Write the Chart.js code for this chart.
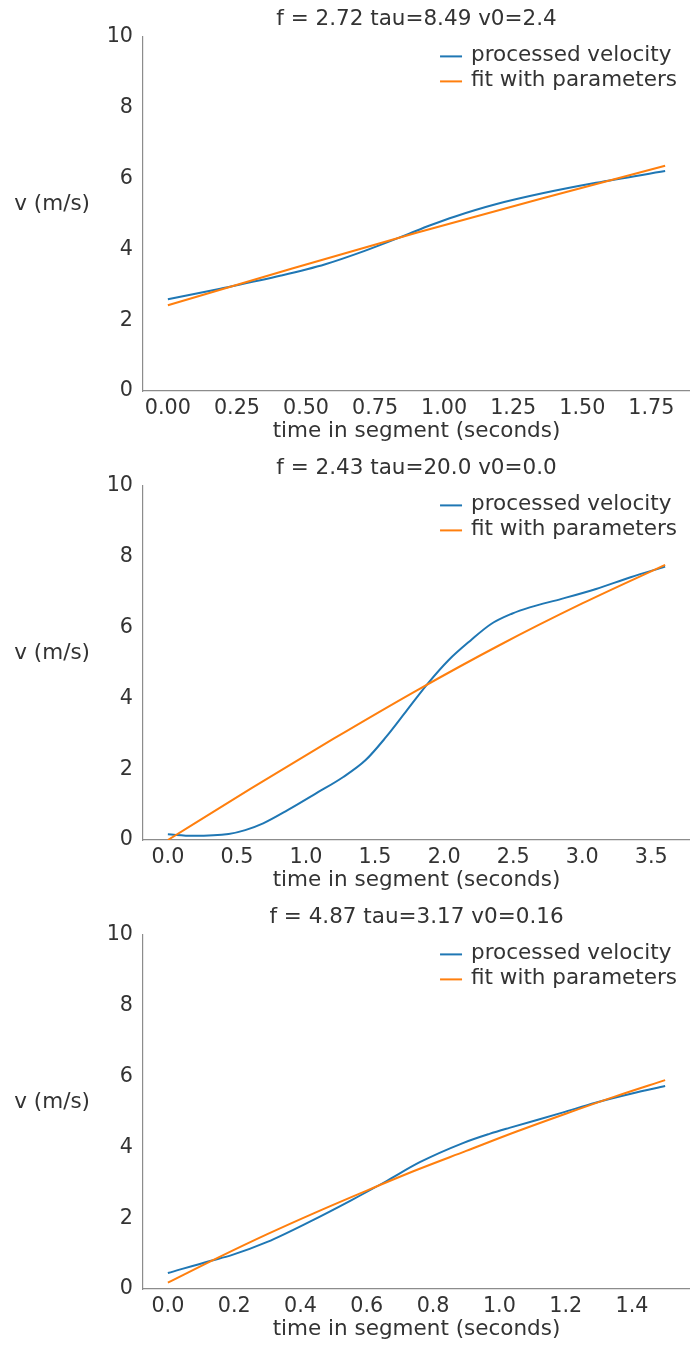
<!DOCTYPE html>
<html>
<head>
<meta charset="utf-8">
<script src="https://cdn.jsdelivr.net/npm/chart.js@4/dist/chart.umd.min.js"></script>
<style>
  html, body { margin: 0; padding: 0; background: #ffffff; overflow: hidden; }
  .panel { position: absolute; left: 0; width: 690px; height: 449px; }
</style>
</head>
<body>
<div class="panel" style="top:0px"><canvas id="seg1" width="690" height="449"></canvas></div>
<div class="panel" style="top:449px"><canvas id="seg2" width="690" height="449"></canvas></div>
<div class="panel" style="top:898px"><canvas id="seg3" width="690" height="449"></canvas></div>
<script>
// Segment 1
const seg1Title = 'f = 2.72 tau=8.49 v0=2.4';
const seg1Time = [0, 0.19, 0.41, 0.57, 0.71, 0.86, 0.95, 1.04, 1.19, 1.36, 1.55, 1.8];
const seg1Velocity = [2.59, 2.89, 3.26, 3.58, 3.95, 4.4, 4.68, 4.93, 5.28, 5.59, 5.88, 6.21];
const seg1FitTime = [0, 0.45, 0.9, 1.35, 1.8];
const seg1Fit = [2.42, 3.46, 4.47, 5.43, 6.36];
const seg1Ticks = [0, 0.25, 0.5, 0.75, 1.0, 1.25, 1.5, 1.75];
const seg1Range = [-0.09, 1.89];

// Segment 2
const seg2Title = 'f = 2.43 tau=20.0 v0=0.0';
const seg2Time = [0, 0.18, 0.44, 0.56, 0.69, 0.87, 1.07, 1.27, 1.43, 1.58, 1.73, 1.88, 2.03, 2.19, 2.34, 2.49, 2.62, 2.85, 3.1, 3.35, 3.6];
const seg2Velocity = [0.16, 0.12, 0.17, 0.28, 0.47, 0.85, 1.31, 1.78, 2.25, 2.91, 3.66, 4.41, 5.07, 5.63, 6.1, 6.39, 6.57, 6.81, 7.09, 7.42, 7.72];
const seg2FitTime = [0, 0.6, 1.2, 1.8, 2.4, 3.0, 3.6];
const seg2Fit = [0.0, 1.45, 2.86, 4.22, 5.5, 6.68, 7.77];
const seg2Ticks = [0, 0.5, 1.0, 1.5, 2.0, 2.5, 3.0, 3.5];
const seg2Range = [-0.18, 3.78];

// Segment 3
const seg3Title = 'f = 4.87 tau=3.17 v0=0.16';
const seg3Time = [0, 0.13, 0.19, 0.3, 0.43, 0.55, 0.66, 0.76, 0.89, 0.97, 1.03, 1.19, 1.29, 1.4, 1.5];
const seg3Velocity = [0.45, 0.8, 0.95, 1.33, 1.91, 2.49, 3.05, 3.58, 4.12, 4.38, 4.55, 4.98, 5.26, 5.52, 5.73];
const seg3FitTime = [0, 0.15, 0.3, 0.45, 0.6, 0.75, 0.9, 1.05, 1.2, 1.35, 1.5];
const seg3Fit = [0.18, 0.88, 1.55, 2.18, 2.78, 3.36, 3.9, 4.44, 4.95, 5.44, 5.9];
const seg3Ticks = [0, 0.2, 0.4, 0.6, 0.8, 1.0, 1.2, 1.4];
const seg3Range = [-0.075, 1.575];

const seriesNames = ['processed velocity', 'fit with parameters'];
const velocityTicks = [0, 2, 4, 6, 8, 10];

const FONT = "'DejaVu Sans', sans-serif";
const TEXT = '#333333';
const SPINE = '#8c8c8c';
Chart.defaults.font.family = FONT;
Chart.defaults.color = TEXT;

// horizontal y-axis label to the left of the tick labels
const yLabelPlugin = {
  id: 'yLabel',
  afterDraw(chart, args, opts) {
    const {ctx, chartArea} = chart;
    ctx.save();
    ctx.font = '21.5px ' + FONT;
    ctx.fillStyle = TEXT;
    ctx.textAlign = 'right';
    ctx.textBaseline = 'bottom';
    ctx.fillText(opts.text, chartArea.left - 53, (chartArea.top + chartArea.bottom) / 2 + 1);
    ctx.restore();
  }
};

// frameless legend in the upper-right corner of the plot area
const cornerLegendPlugin = {
  id: 'cornerLegend',
  afterDraw(chart) {
    const {ctx, chartArea} = chart;
    const sets = chart.data.datasets;
    ctx.save();
    ctx.font = '21.5px ' + FONT;
    let maxW = 0;
    sets.forEach(d => { maxW = Math.max(maxW, ctx.measureText(d.label).width); });
    const textX = chartArea.right - 13 - maxW;
    const lineX1 = textX - 9;
    const lineX0 = lineX1 - 22;
    sets.forEach((d, i) => {
      const y = chartArea.top + 18.5 + i * 25;
      ctx.strokeStyle = d.borderColor;
      ctx.lineWidth = 2;
      ctx.beginPath();
      ctx.moveTo(lineX0, y + 1);
      ctx.lineTo(lineX1, y + 1);
      ctx.stroke();
      ctx.fillStyle = TEXT;
      ctx.textAlign = 'left';
      ctx.textBaseline = 'middle';
      ctx.fillText(d.label, textX, y);
    });
    ctx.restore();
  }
};

function points(xs, ys) {
  return xs.map((x, i) => ({x: x, y: ys[i]}));
}

function makeSegmentChart(id, title, time, velocity, fitTime, fit, ticks, range, decimals) {
  return new Chart(document.getElementById(id), {
    type: 'line',
    data: {
      datasets: [
        {
          label: seriesNames[0],
          data: points(time, velocity),
          borderColor: '#1f77b4',
          borderWidth: 2,
          pointRadius: 0,
          cubicInterpolationMode: 'monotone',
          fill: false,
          order: 1
        },
        {
          label: seriesNames[1],
          data: points(fitTime, fit),
          borderColor: '#ff7f0e',
          borderWidth: 2,
          pointRadius: 0,
          cubicInterpolationMode: 'monotone',
          fill: false,
          order: 0
        }
      ]
    },
    options: {
      responsive: false,
      animation: false,
      events: [],
      layout: { padding: 0 },
      plugins: {
        legend: { display: false },
        tooltip: { enabled: false },
        title: {
          display: true,
          fullSize: false,
          text: title,
          color: TEXT,
          font: { size: 21.5, weight: 'normal' },
          padding: { top: 6.8, bottom: 4.3 }
        },
        yLabel: { text: 'v (m/s)' }
      },
      scales: {
        x: {
          type: 'linear',
          min: range[0],
          max: range[1],
          grid: { display: false, drawTicks: false },
          border: { display: true, color: SPINE, width: 1.2 },
          ticks: {
            padding: 5.5,
            color: TEXT,
            font: { size: 20.7 },
            maxRotation: 0,
            callback: v => Number(v).toFixed(decimals)
          },
          afterBuildTicks: s => { s.ticks = ticks.map(v => ({value: v})); },
          afterFit: s => { s.height = 58; },
          title: {
            display: true,
            text: 'time in segment (seconds)',
            color: TEXT,
            font: { size: 21.5 },
            padding: { top: 0, bottom: 4.2 }
          }
        },
        y: {
          type: 'linear',
          min: 0,
          max: 10,
          grid: { display: false, drawTicks: false },
          border: { display: true, color: SPINE, width: 1.2 },
          ticks: {
            padding: 10,
            color: TEXT,
            font: { size: 20.7 },
            callback: v => String(v)
          },
          afterBuildTicks: s => { s.ticks = velocityTicks.map(v => ({value: v})); },
          afterFit: s => { s.width = 143; }
        }
      }
    },
    plugins: [yLabelPlugin, cornerLegendPlugin]
  });
}

makeSegmentChart('seg1', seg1Title, seg1Time, seg1Velocity, seg1FitTime, seg1Fit, seg1Ticks, seg1Range, 2);
makeSegmentChart('seg2', seg2Title, seg2Time, seg2Velocity, seg2FitTime, seg2Fit, seg2Ticks, seg2Range, 1);
makeSegmentChart('seg3', seg3Title, seg3Time, seg3Velocity, seg3FitTime, seg3Fit, seg3Ticks, seg3Range, 1);
</script>
</body>
</html>
